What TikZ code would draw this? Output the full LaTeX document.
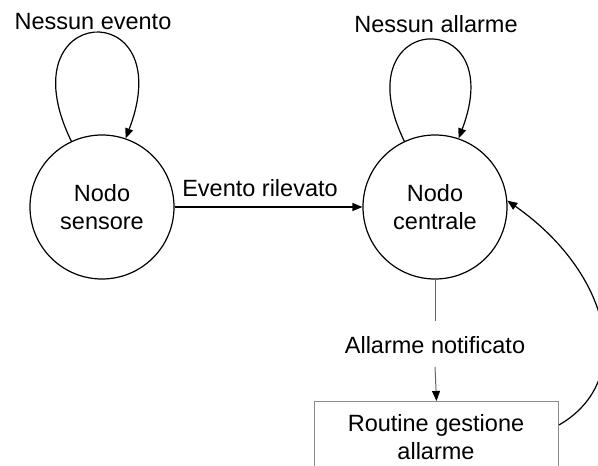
\documentclass[tikz,border=0pt]{standalone}
\usepackage{fontspec}
\setmainfont{Liberation Sans}
\usetikzlibrary{arrows.meta}
\tikzset{
  every node/.style={font=\fontsize{23.5}{28}\selectfont},
  state/.style={draw, circle, line width=1.2pt, minimum size=144pt, inner sep=0pt, align=center},
  routine/.style={draw=black!45, line width=1pt, minimum width=244pt, minimum height=90pt, anchor=north west, inner sep=0pt},
  conn/.style={line width=1.2pt, -{Triangle[length=10pt,width=8pt]}},
  plainconn/.style={line width=1pt, draw=black!60},
  lbl/.style={inner sep=0pt}
}
\begin{document}
\begin{tikzpicture}[x=1pt,y=1pt]
\useasboundingbox (0,0) rectangle (598,466);
\node[state] (s) at (102,259) {Nodo\\sensore};
\node[state] (c) at (435,259) {Nodo\\centrale};
\node[routine] (r) at (314,65) {};
\node[lbl, align=center] (rt) at (436,29) {Routine gestione\\allarme};
\node[lbl] (ls) at (93,444) {Nessun evento};
\node[lbl] (lc) at (436,442) {Nessun allarme};
\node[lbl] (le) at (260,278) {Evento rilevato};
\node[lbl] (la) at (435,121) {Allarme notificato};
\coordinate (rout) at ([yshift=-24pt]r.north east);
% self loops
\draw[conn] (s.115) .. controls +(116:155) and +(69:155) .. (s.71);
\draw[conn] (c.115) .. controls +(116:145) and +(69:145) .. (c.71);
% transitions
\draw[conn] (s.east) -- (c.west);
\draw[plainconn] (c.south) -- ([yshift=15pt]la.north);
\draw[plainconn,-{Triangle[length=10pt,width=8pt,color=black]}] ([yshift=-13pt]la.south) -- (r.north);
\draw[conn] (rout) .. controls +(30:90) and +(-35:125) .. (c.5);
\end{tikzpicture}
\end{document}
